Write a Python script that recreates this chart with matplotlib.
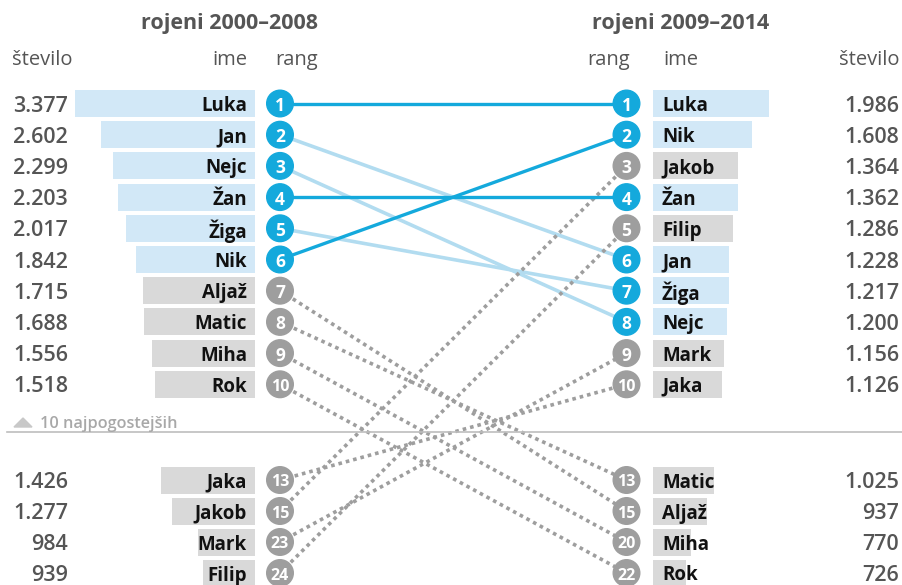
import numpy as np
import matplotlib.pyplot as plt
from matplotlib.patches import Circle, Polygon

plt.rcParams['font.family'] = ['Open Sans', 'DejaVu Sans']

# names in display order for each period, with rank and count
left_names = ["Luka", "Jan", "Nejc", "Žan", "Žiga", "Nik", "Aljaž", "Matic",
              "Miha", "Rok", "Jaka", "Jakob", "Mark", "Filip"]
left_ranks = [1, 2, 3, 4, 5, 6, 7, 8, 9, 10, 13, 15, 23, 24]
left_counts = [3377, 2602, 2299, 2203, 2017, 1842, 1715, 1688, 1556, 1518,
               1426, 1277, 984, 939]

right_names = ["Luka", "Nik", "Jakob", "Žan", "Filip", "Jan", "Žiga", "Nejc",
               "Mark", "Jaka", "Matic", "Aljaž", "Miha", "Rok"]
right_ranks = [1, 2, 3, 4, 5, 6, 7, 8, 9, 10, 13, 15, 20, 22]
right_counts = [1986, 1608, 1364, 1362, 1286, 1228, 1217, 1200, 1156, 1126,
                1025, 937, 770, 726]

left_title = "rojeni 2000–2008"
right_title = "rojeni 2009–2014"

BLUE = "#14a9dc"
LIGHT_LINE = "#b2dcf0"
BLUE_BAR = "#d2e8f7"
GRAY_BAR = "#d9d9d9"
GRAY = "#9e9e9e"
TEXT = "#555555"

W, H = 902, 585
fig = plt.figure(figsize=(W / 100, H / 100), dpi=100)
ax = fig.add_axes([0, 0, 1, 1])
ax.set_xlim(0, W)
ax.set_ylim(H, 0)
ax.axis("off")

# row positions: top ten, then the four names outside the top ten
row_y = np.concatenate([103.5 + np.arange(10) * 31.2, 480 + np.arange(4) * 31.0])

both_top = set(left_names[:10]) & set(right_names[:10])


def bar_len(v, k, v0):
    return k * np.log(np.asarray(v, dtype=float) / v0)


# left bars (grow to the left), right bars (grow to the right)
lx_end, rx_start = 255, 653
llen = bar_len(left_counts, 100, 558)
rlen = bar_len(right_counts, 82.5, 487)
lcol = [BLUE_BAR if n in both_top else GRAY_BAR for n in left_names]
rcol = [BLUE_BAR if n in both_top else GRAY_BAR for n in right_names]
ax.barh(row_y, llen, left=lx_end - llen, height=27, color=lcol, zorder=1)
ax.barh(row_y, rlen, left=rx_start, height=27, color=rcol, zorder=1)

lcx, rcx, rad = 280, 626.5, 13.3

# connecting lines
for i, name in enumerate(left_names):
    j = right_names.index(name)
    ys = [row_y[i], row_y[j]]
    if name in both_top:
        if right_ranks[j] <= left_ranks[i]:
            ax.plot([lcx, rcx], ys, color=BLUE, lw=2.4, zorder=3,
                    solid_capstyle="butt")
        else:
            ax.plot([lcx, rcx], ys, color=LIGHT_LINE, lw=2.6, zorder=2,
                    solid_capstyle="butt")
    else:
        ax.plot([lcx, rcx], ys, color=GRAY, lw=2.6, zorder=2,
                linestyle=(0, (1, 1.1)))

# rank circles, names and counts
dy = 2.5
for names, ranks, counts, cx, side in [
        (left_names, left_ranks, left_counts, lcx, "L"),
        (right_names, right_ranks, right_counts, rcx, "R")]:
    for y, n, r, c in zip(row_y, names, ranks, counts):
        col = BLUE if n in both_top else GRAY
        ax.add_patch(Circle((cx, y), rad, color=col, zorder=4))
        fs = 12.5 if r < 10 else 11.5
        ax.text(cx, y + dy, str(r), color="white", fontsize=fs,
                fontweight="bold", ha="center", va="center", zorder=5)
        label = f"{c:,}".replace(",", ".")
        if side == "L":
            ax.text(247, y + dy, n, ha="right", va="center", fontsize=13.5,
                    fontweight="bold", color="#111111", zorder=5)
            ax.text(68, y + dy, label, ha="right", va="center", fontsize=15.5,
                    fontweight="semibold", color=TEXT)
        else:
            ax.text(662, y + dy, n, ha="left", va="center", fontsize=13.5,
                    fontweight="bold", color="#111111", zorder=5)
            ax.text(899, y + dy, label, ha="right", va="center", fontsize=15.5,
                    fontweight="semibold", color=TEXT)

# headings
ax.text(318, 24, left_title, ha="right", va="center", fontsize=15.5,
        fontweight="bold", color=TEXT)
ax.text(592, 24, right_title, ha="left", va="center", fontsize=15.5,
        fontweight="bold", color=TEXT)
hy = 60
hfs = 14.5
ax.text(12, hy, "število", ha="left", va="center", fontsize=hfs, color=TEXT)
ax.text(247, hy, "ime", ha="right", va="center", fontsize=hfs, color=TEXT)
ax.text(297, hy, "rang", ha="center", va="center", fontsize=hfs, color=TEXT)
ax.text(609, hy, "rang", ha="center", va="center", fontsize=hfs, color=TEXT)
ax.text(663, hy, "ime", ha="left", va="center", fontsize=hfs, color=TEXT)
ax.text(899, hy, "število", ha="right", va="center", fontsize=hfs, color=TEXT)

# divider below the top ten
ax.plot([7, W], [432, 432], color="#bdbdbd", lw=1.2)
ax.add_patch(Polygon([[14, 427], [32, 427], [23, 418]], closed=True,
                     color="#c8c8c8"))
ax.text(40, 424, "10 najpogostejših", ha="left", va="center", fontsize=11.7,
        fontweight="semibold", color="#a8a8a8")

fig.savefig("out.png", dpi=100)
